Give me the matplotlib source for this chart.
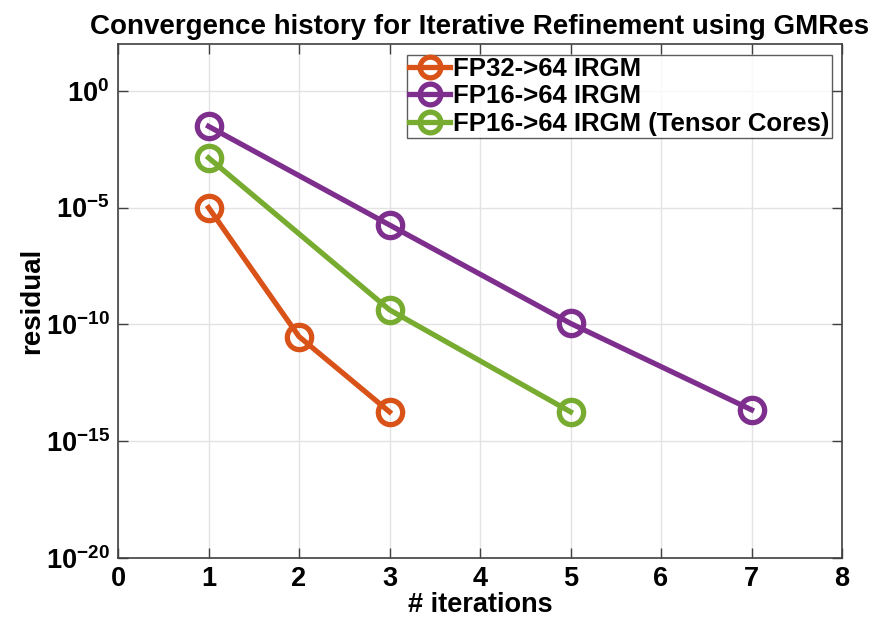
import numpy as np
import matplotlib
matplotlib.use('Agg')
from matplotlib import pyplot as plt
from matplotlib.ticker import FixedLocator, FixedFormatter, NullLocator

plt.rcParams['font.family'] = ['Liberation Sans', 'DejaVu Sans']
plt.rcParams['font.weight'] = 'bold'
plt.rcParams['mathtext.fontset'] = 'custom'
plt.rcParams['mathtext.rm'] = 'Liberation Sans:bold'
plt.rcParams['mathtext.bf'] = 'Liberation Sans:bold'
plt.rcParams['mathtext.default'] = 'bf'

# data
fp32_iter = [1, 2, 3]
fp32_res = [1.0e-5, 3.0e-11, 1.8e-14]
fp16_iter = [1, 3, 5, 7]
fp16_res = [3.0e-2, 1.8e-6, 1.1e-10, 2.2e-14]
tc_iter = [1, 3, 5]
tc_res = [1.35e-3, 4.2e-10, 1.8e-14]

labels = ['FP32->64 IRGM', 'FP16->64 IRGM', 'FP16->64 IRGM (Tensor Cores)']
colors = ['#D95319', '#7E2F8E', '#77AC30']

yticks = [1e-20, 1e-15, 1e-10, 1e-5, 1e0]
ytick_labels = ['$10^{-20}$', '$10^{-15}$', '$10^{-10}$', '$10^{-5}$', '$10^{0}$']

fig = plt.figure(figsize=(8.92, 6.2), dpi=100)
ax = fig.add_axes([0.1323, 0.1, 0.8117, 0.829])

series = [(fp32_iter, fp32_res), (fp16_iter, fp16_res), (tc_iter, tc_res)]
for (xs, ys), lab, c in zip(series, labels, colors):
    ax.semilogy(xs, ys, '-o', color=c, lw=3.8, ms=17.5, mfc='none',
                mec=c, mew=3.8, label=lab)

ax.set_xlim(0, 8)
ax.set_ylim(1e-20, 1e2)
ax.set_xticks(range(0, 9))
ax.yaxis.set_major_locator(FixedLocator(yticks))
ax.yaxis.set_major_formatter(FixedFormatter(ytick_labels))
ax.yaxis.set_minor_locator(NullLocator())

ax.grid(True, color='#e3e3e3', lw=1)
ax.set_axisbelow(True)
ax.tick_params(direction='in', top=True, right=True, length=7, width=1,
               labelsize=19.5, color='#404040', pad=6)
for lab in ax.get_xticklabels():
    lab.set_fontweight('bold')
for s in ax.spines.values():
    s.set_color('#404040')
    s.set_linewidth(1.2)

ax.set_xlabel('# iterations', fontsize=19.5, fontweight='bold', labelpad=0)
ax.set_ylabel('residual', fontsize=20, fontweight='bold', labelpad=0)
ax.set_title('Convergence history for Iterative Refinement using GMRes',
             fontsize=20, fontweight='bold', pad=7)

leg = ax.legend(loc='upper right', bbox_to_anchor=(0.986, 0.979), fontsize=18.5,
                frameon=True, fancybox=False, edgecolor='#333333',
                handlelength=1.6, handletextpad=0.1, borderpad=0.1,
                labelspacing=0.12, borderaxespad=0.0, markerscale=0.85)
leg.get_frame().set_linewidth(1)
for t in leg.get_texts():
    t.set_fontweight('bold')

fig.savefig('out.png', dpi=100)
